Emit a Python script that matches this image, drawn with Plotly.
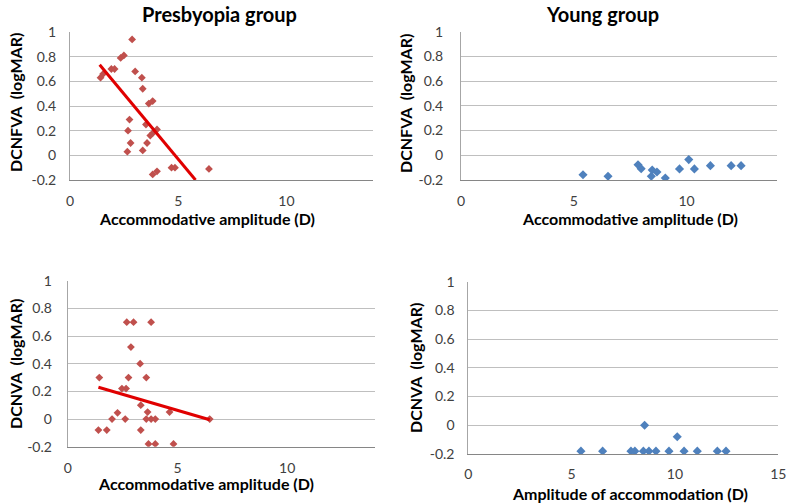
import plotly.graph_objects as go

# ---------------- data ----------------
# Presbyopia group, DCNFVA vs accommodative amplitude
pres_far_x = [2.87, 2.34, 2.49, 1.91, 2.06, 1.41, 1.53, 3.01, 3.32, 3.36, 3.64, 3.82,
              2.75, 2.68, 2.80, 2.65, 3.36, 3.56, 3.51, 3.71, 3.82, 4.02, 3.82, 4.02,
              4.69, 4.85, 6.42]
pres_far_y = [0.94, 0.79, 0.81, 0.70, 0.70, 0.63, 0.66, 0.68, 0.63, 0.54, 0.42, 0.44,
              0.29, 0.20, 0.10, 0.03, 0.04, 0.10, 0.25, 0.16, 0.18, 0.21, -0.155, -0.13,
              -0.10, -0.10, -0.11]
pres_far_trend_x = [1.37, 5.80]
pres_far_trend_y = [0.735, -0.20]

# Young group, DCNFVA
young_far_x = [5.41, 6.52, 7.85, 7.99, 8.44, 8.48, 8.69, 9.06, 9.69, 10.10, 10.35,
               11.06, 11.98, 12.42]
young_far_y = [-0.157, -0.17, -0.076, -0.108, -0.17, -0.12, -0.135, -0.184, -0.11,
               -0.035, -0.11, -0.084, -0.084, -0.084]

# Presbyopia group, DCNVA
pres_near_x = [2.69, 3.00, 3.80, 2.88, 3.30, 1.44, 2.77, 3.58, 2.47, 2.66, 3.33, 2.27,
               2.02, 2.62, 3.64, 3.58, 3.80, 3.99, 4.64, 6.47, 1.40, 1.78, 3.33, 3.68,
               3.99, 4.82]
pres_near_y = [0.70, 0.70, 0.70, 0.52, 0.40, 0.30, 0.30, 0.30, 0.22, 0.22, 0.10, 0.045,
               0.0, 0.0, 0.05, 0.0, 0.0, 0.0, 0.05, 0.0, -0.08, -0.08, -0.08, -0.18,
               -0.18, -0.18]
pres_near_trend_x = [1.40, 6.47]
pres_near_trend_y = [0.23, -0.005]

# Young group, DCNVA
young_near_x = [5.45, 6.50, 7.87, 8.06, 8.47, 8.74, 9.08, 9.71, 10.44, 11.08, 12.05,
                12.47, 8.53, 10.11]
young_near_y = [-0.18, -0.18, -0.18, -0.18, -0.18, -0.18, -0.18, -0.18, -0.18, -0.18,
                -0.18, -0.18, 0.0, -0.08]

y_tickvals = [-0.2, 0, 0.2, 0.4, 0.6, 0.8, 1]
y_ticktext = ["-0.2", "0", "0.2", "0.4", "0.6", "0.8", "1"]
x_tickvals_a = [0, 5, 10]
x_tickvals_b = [0, 5, 10, 15]

titles = ["Presbyopia group", "Young group"]
x_titles = ["Accommodative amplitude (D)", "Accommodative amplitude (D)",
            "Accommodative amplitude (D)", "Amplitude of accommodation (D)"]
y_titles = ["DCNFVA  (logMAR)", "DCNFVA  (logMAR)", "DCNVA  (logMAR)", "DCNVA  (logMAR)"]

# ---------------- styling ----------------
W, H = 789, 504
RED = "#C0504D"
BLUE = "#4F81BD"
FONT = "Lato"

def pxx(x):
    return x / W

def pyy(y):
    return 1 - y / H

fig = go.Figure()

# panels: (left, right, top, bottom) in pixels
panels = [
    (70, 373, 32, 180),
    (461, 776.7, 31.7, 180),
    (67.7, 375, 280.7, 446.7),
    (468.3, 778.3, 281.7, 454),
]

fig.add_trace(go.Scatter(x=pres_far_x, y=pres_far_y, mode="markers",
                         marker=dict(symbol="diamond", size=6, color=RED),
                         xaxis="x", yaxis="y", showlegend=False))
fig.add_trace(go.Scatter(x=pres_far_trend_x, y=pres_far_trend_y, mode="lines",
                         line=dict(color="#E00000", width=3),
                         xaxis="x", yaxis="y", showlegend=False))
fig.add_trace(go.Scatter(x=young_far_x, y=young_far_y, mode="markers",
                         marker=dict(symbol="diamond", size=7, color=BLUE),
                         xaxis="x2", yaxis="y2", showlegend=False))
fig.add_trace(go.Scatter(x=pres_near_x, y=pres_near_y, mode="markers",
                         marker=dict(symbol="diamond", size=6, color=RED),
                         xaxis="x3", yaxis="y3", showlegend=False))
fig.add_trace(go.Scatter(x=pres_near_trend_x, y=pres_near_trend_y, mode="lines",
                         line=dict(color="#E00000", width=3),
                         xaxis="x3", yaxis="y3", showlegend=False))
fig.add_trace(go.Scatter(x=young_near_x, y=young_near_y, mode="markers",
                         marker=dict(symbol="diamond", size=7, color=BLUE),
                         xaxis="x4", yaxis="y4", showlegend=False))

layout = dict(
    width=W, height=H,
    margin=dict(l=0, r=0, t=0, b=0, pad=0),
    paper_bgcolor="white", plot_bgcolor="white",
    font=dict(family=FONT, color="#404040"),
    showlegend=False,
)

y_standoffs = [10, 14, 12, 10]
x_standoffs = [8, 8, 8, 7]
for i, (l, r, t, b) in enumerate(panels):
    sfx = "" if i == 0 else str(i + 1)
    xr = [0, 15] if i == 3 else [0, 14]
    xt = x_tickvals_b if i == 3 else x_tickvals_a
    layout["xaxis" + sfx] = dict(
        domain=[pxx(l), pxx(r)], range=xr, anchor="y" + sfx, automargin=False,
        tickvals=xt, ticktext=[str(v) for v in xt],
        showgrid=False, zeroline=False, showline=True, linecolor="#868686",
        linewidth=1, ticks="", tickfont=dict(size=14, family=FONT, color="#404040"),
        ticklabelstandoff=x_standoffs[i],
    )
    layout["yaxis" + sfx] = dict(
        domain=[pyy(b), pyy(t)], range=[-0.2, 1], anchor="x" + sfx, automargin=False,
        tickvals=y_tickvals, ticktext=y_ticktext,
        showgrid=True, gridcolor="#BFBFBF", gridwidth=1,
        zeroline=False, showline=True, linecolor="#A6A6A6", linewidth=1,
        ticks="", tickfont=dict(size=14, family=FONT, color="#404040"),
        ticklabelstandoff=y_standoffs[i],
    )

fig.update_layout(**layout)

annotations = []
# panel titles
for txt, cx in zip(titles, [219, 602]):
    annotations.append(dict(text=txt, x=pxx(cx), y=pyy(14), xref="paper", yref="paper",
                            showarrow=False, xanchor="center", yanchor="middle",
                            font=dict(size=20, family=FONT, color="black", weight="bold")))
# x-axis titles
for txt, (cx, cy) in zip(x_titles, [(207, 218), (630, 218), (206, 483), (630, 493)]):
    annotations.append(dict(text=txt, x=pxx(cx), y=pyy(cy), xref="paper", yref="paper",
                            showarrow=False, xanchor="center", yanchor="middle",
                            font=dict(size=16, family=FONT, color="black", weight="bold")))
# y-axis titles
for txt, (cx, cy) in zip(y_titles, [(16, 103), (406, 104), (15, 364), (415, 368)]):
    annotations.append(dict(text=txt.replace("  ", "&nbsp; "), x=pxx(cx), y=pyy(cy),
                            xref="paper", yref="paper",
                            showarrow=False, xanchor="center", yanchor="middle",
                            textangle=-90,
                            font=dict(size=16, family=FONT, color="black", weight="bold")))
fig.update_layout(annotations=annotations)

# remove the default page margin so the figure sits at the window's top-left corner
fig.write_html("out.html", config={"displayModeBar": False},
               post_script="document.body.style.margin='0px';")
